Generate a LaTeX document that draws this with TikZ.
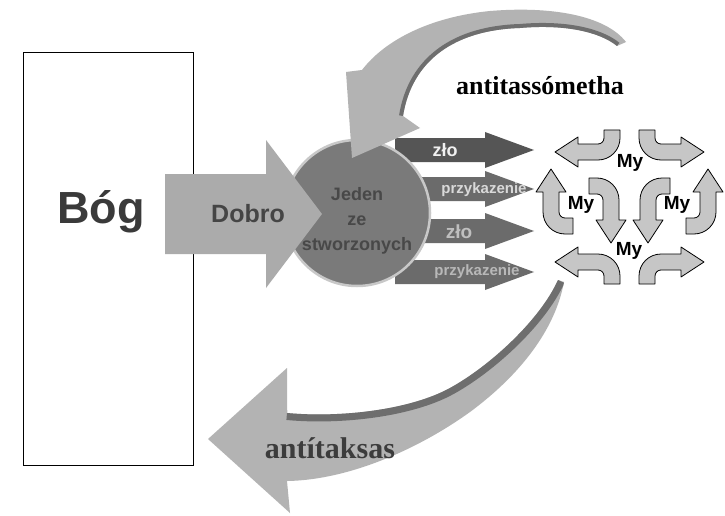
\documentclass[tikz,border=0pt]{standalone}
\usepackage{fontspec}
\setmainfont{Liberation Sans}
\newfontfamily\timesf{Liberation Serif}
\definecolor{bogtext}{HTML}{3A3A3A}
\definecolor{dobrogray}{HTML}{ABABAB}
\definecolor{dobrotext}{HTML}{454545}
\definecolor{circgray}{HTML}{7A7A7A}
\definecolor{ringgray}{HTML}{C8C8C8}
\definecolor{jedentext}{HTML}{484848}
\definecolor{arrA}{HTML}{555555}
\definecolor{arrB}{HTML}{6B6B6B}
\definecolor{bandgray}{HTML}{B3B3B3}
\definecolor{stripegray}{HTML}{6E6E6E}
\definecolor{mygray}{HTML}{C6C6C6}
\definecolor{taktext}{HTML}{3C3C3C}
\tikzset{
  myarrow/.style={fill=mygray, draw=black, line width=0.8pt, line join=round},
  mylabel/.style={text=black, font=\bfseries\fontsize{19}{22}\selectfont, inner sep=0pt},
  arrlabel/.style={font=\bfseries\fontsize{#1}{#1}\selectfont, inner sep=0pt},
  greek/.style={font=\timesf\bfseries\fontsize{#1}{#1}\selectfont, inner sep=0pt, anchor=base}
}
\def\upperpath{(626,42) .. controls (605,15) and (550,6) .. (490,11) .. controls (430,17) and (385,40) .. (362,70) -- (346,72) -- (352,158) -- (420,128) -- (403,116) .. controls (412,60) and (455,30) .. (520,28) .. controls (565,24) and (600,32) .. (617,46) -- cycle}
\def\upperinner{(403,116) .. controls (412,60) and (455,30) .. (520,28) .. controls (565,24) and (600,32) .. (617,46)}
\def\lowerpath{(287,413) .. controls (340,418) and (410,410) .. (450,388) .. controls (490,366) and (540,320) .. (558,280) -- (564,282) .. controls (555,330) and (520,375) .. (470,412) .. controls (420,448) and (350,480) .. (287,481) -- (290,513) -- (208,439) -- (287,368) -- cycle}
\def\lowerinner{(287,413) .. controls (340,418) and (410,410) .. (450,388) .. controls (490,366) and (540,320) .. (558,280)}
\def\mypath{(6,-8) -- (22,-8) -- (22,0) .. controls (22,12.15) and (12.15,22) .. (0,22) -- (-20,22) -- (-20,29) -- (-43,14) -- (-20,-1) -- (-20,6) -- (0,6) .. controls (3.3,6) and (6,3.3) .. (6,0) -- cycle}
\begin{document}
\begin{tikzpicture}[x=1pt,y=-1pt]
\path[use as bounding box] (0,0) rectangle (725,516);
\fill[white] (0,0) rectangle (725,516);

% God box
\node[draw=black, line width=0.8pt, fill=white, minimum width=170pt, minimum height=413pt, inner sep=0pt] (bogbox) at (108.5,258.5) {};
\node[text=bogtext, font=\bfseries\fontsize{45}{50}\selectfont, inner sep=0pt] (bog) at (101,212) {Bóg};

% four dark arrows (behind the circle)
\foreach \y/\c in {150/arrA,189/arrB,231/arrB,272/arrB}
  \fill[\c] (395,\y-12) -- (485,\y-12) -- (485,\y-18) -- (534,\y) -- (485,\y+18) -- (485,\y+12) -- (395,\y+12) -- cycle;

% circle
\node[circle, fill=circgray, draw=ringgray, line width=2.5pt, minimum size=146pt, inner sep=0pt] (jeden) at (357,213) {};
\node[text=jedentext, font=\bfseries\fontsize{18}{25}\selectfont, align=center, inner sep=0pt] (jedentxt) at (357,221) {Jeden\\ze\\stworzonych};

% Dobro arrow
\fill[dobrogray] (165,174) -- (266,174) -- (266,140) -- (322,214) -- (266,288) -- (266,254) -- (165,254) -- cycle;
\node[text=dobrotext, font=\bfseries\fontsize{25}{28}\selectfont, inner sep=0pt] (dobro) at (248,214) {Dobro};

% upper curved arrow
\fill[bandgray] \upperpath;
\begin{scope}
  \clip \upperpath;
  \draw[stripegray, line width=8pt] \upperinner;
\end{scope}
\node[greek=26, text=black] (antitas) at (540,95) {antitassómetha};

% lower curved arrow
\fill[bandgray] \lowerpath;
\begin{scope}
  \clip \lowerpath;
  \draw[stripegray, line width=14pt] \lowerinner;
\end{scope}
\node[greek=30, text=taktext] (antitak) at (330,458) {antítaksas};

% labels on the dark arrows
\node[arrlabel=18, text=white!94!black] (zlo1) at (445,150) {zło};
\node[arrlabel=15, text=white!85!black] (przyk1) at (484,190) {przykazenie};
\node[arrlabel=19, text=white!75!black] (zlo2) at (459,232) {zło};
\node[arrlabel=15, text=white!72!black] (przyk2) at (477,272) {przykazenie};

% the "My" arrows
\begin{scope}[shift={(598,138)}] \draw[myarrow] \mypath; \end{scope}
\begin{scope}[shift={(661,138)}, xscale=-1] \draw[myarrow] \mypath; \end{scope}
\begin{scope}[shift={(598,276)}, yscale=-1] \draw[myarrow] \mypath; \end{scope}
\begin{scope}[shift={(661,276)}, xscale=-1, yscale=-1] \draw[myarrow] \mypath; \end{scope}
\begin{scope}[shift={(565,212)}, rotate=-90] \draw[myarrow] \mypath; \end{scope}
\begin{scope}[shift={(694,212)}, xscale=-1, rotate=-90] \draw[myarrow] \mypath; \end{scope}
\begin{scope}[shift={(597,200)}, rotate=90] \draw[myarrow] \mypath; \end{scope}
\begin{scope}[shift={(662,200)}, xscale=-1, rotate=90] \draw[myarrow] \mypath; \end{scope}

\node[mylabel] (mytop) at (630,163) {My};
\node[mylabel] (myleft) at (581,205) {My};
\node[mylabel] (myright) at (677,205) {My};
\node[mylabel] (mybottom) at (629,251) {My};
\end{tikzpicture}
\end{document}
